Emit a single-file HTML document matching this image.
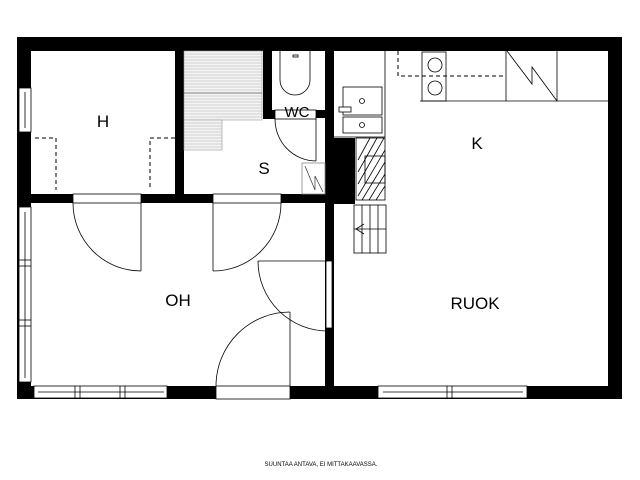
<!DOCTYPE html>
<html><head><meta charset="utf-8"><style>html,body{margin:0;padding:0;background:#fff}svg{display:block}</style></head>
<body>
<svg width="640" height="480" viewBox="0 0 640 480" xmlns="http://www.w3.org/2000/svg" font-family="Liberation Sans, sans-serif">
<rect width="640" height="480" fill="#fff"/>
<!-- outer walls -->
<rect x="17" y="37" width="605" height="14" fill="#000"/>
<rect x="608" y="37" width="14" height="362" fill="#000"/>
<rect x="17" y="386" width="605" height="13" fill="#000"/>
<rect x="17" y="37" width="14" height="362" fill="#000"/>
<!-- interior walls -->
<rect x="175" y="51" width="9" height="152" fill="#000"/>
<rect x="31" y="194" width="303" height="9" fill="#000"/>
<rect x="263" y="51" width="9" height="68" fill="#000"/>
<rect x="263" y="110" width="12" height="9" fill="#000"/>
<rect x="315" y="110" width="10" height="8" fill="#000"/>
<rect x="325" y="51" width="9" height="335" fill="#000"/>
<rect x="334" y="138" width="21" height="66" fill="#000"/>
<g fill="#fff" stroke="#000" stroke-width="0.8">
<!-- door frames -->
<rect x="73" y="194" width="68" height="9"/>
<rect x="213" y="194" width="68" height="9"/>
<rect x="275" y="110" width="41" height="9"/>
<rect x="216" y="386" width="74" height="13"/>
<rect x="326" y="261" width="6" height="67"/>
<!-- windows -->
<rect x="19" y="88" width="12" height="44"/>
<rect x="19" y="207" width="12" height="175"/>
<rect x="34" y="386" width="133" height="12"/>
<rect x="378" y="386" width="149" height="12"/>
</g>
<g stroke="#000" stroke-width="0.8" fill="none">
<line x1="25" y1="92" x2="25" y2="128"/><line x1="25" y1="212" x2="25" y2="378"/>
<line x1="19" y1="260" x2="31" y2="260"/><line x1="19" y1="266" x2="31" y2="266"/>
<line x1="19" y1="320" x2="31" y2="320"/><line x1="19" y1="326" x2="31" y2="326"/>
<line x1="38" y1="392" x2="164" y2="392"/>
<line x1="75" y1="386" x2="75" y2="398"/><line x1="80" y1="386" x2="80" y2="398"/>
<line x1="120" y1="386" x2="120" y2="398"/><line x1="125" y1="386" x2="125" y2="398"/>
<line x1="383" y1="392" x2="523" y2="392"/>
<line x1="447" y1="386" x2="447" y2="398"/><line x1="452" y1="386" x2="452" y2="398"/>
<!-- doors -->
<line x1="141" y1="203" x2="141" y2="271"/><path d="M73 203 A68 68 0 0 0 141 271"/>
<line x1="213" y1="203" x2="213" y2="271"/><path d="M281 203 A68 68 0 0 1 213 271"/>
<line x1="258" y1="261" x2="328" y2="261"/><path d="M258 261 A70 70 0 0 0 328 331"/>
<line x1="290" y1="386" x2="290" y2="312"/><path d="M216 386 A74 74 0 0 1 290 312"/>
<line x1="316" y1="119" x2="316" y2="161"/><path d="M275 119 A41 42 0 0 0 316 161"/>
<!-- toilet -->
<path d="M280 51 L280 80 A15 15 0 0 0 310 80 L310 51"/>
<rect x="293" y="55" width="5" height="2"/>
</g>
<!-- dashed H -->
<g stroke="#000" stroke-width="1" stroke-dasharray="4 3" fill="none">
<path d="M35 138 H56 V190"/><path d="M175 138 H150 V190"/>
<path d="M398 51 V76 H506"/>
</g>
<!-- sauna benches -->
<g stroke="#999" stroke-width="0.6">
<rect x="184" y="51" width="78" height="69" fill="#f4f4f4"/>
<rect x="184" y="120" width="38" height="30" fill="#f4f4f4"/>
</g>
<g stroke="#aaa" stroke-width="0.5">
<path d="M184 54H262M184 57H262M184 60H262M184 63H262M184 66H262M184 69H262M184 72H262M184 75H262M184 78H262M184 81H262M184 84H262M184 87H262M184 90H262M184 96H262M184 99H262M184 102H262M184 105H262M184 108H262M184 111H262M184 114H262M184 117H262M184 123H222M184 126H222M184 129H222M184 132H222M184 135H222M184 138H222M184 141H222M184 144H222M184 147H222"/>
</g>
<line x1="184" y1="93" x2="262" y2="93" stroke="#555" stroke-width="0.8"/>
<!-- gray box with zigzag -->
<rect x="302" y="163" width="23" height="31" fill="none" stroke="#888" stroke-width="0.8"/>
<path d="M305 166 L315 190 L315 176 L323 192" fill="none" stroke="#333" stroke-width="0.7"/>
<!-- kitchen -->
<g stroke="#000" stroke-width="0.8" fill="none">
<path d="M334 137 H385 V51"/>
<rect x="343" y="87" width="39" height="28"/><rect x="339" y="107" width="12" height="5" fill="#fff"/>
<rect x="343" y="117" width="39" height="16"/>
<circle cx="362" cy="101" r="2.5"/><circle cx="362" cy="125" r="2.5"/>
<rect x="356" y="138" width="29" height="62"/><rect x="365" y="156" width="20" height="27"/>
<path d="M358 160 L370 138 M358 172 L377 138 M358 184 L384 138 M358 196 L385 150 M362 200 L385 162 M369 200 L385 174 M376 200 L385 186"/>
<rect x="354" y="205" width="32" height="48"/>
<line x1="362" y1="205" x2="362" y2="253"/><line x1="370" y1="205" x2="370" y2="253"/><line x1="378" y1="205" x2="378" y2="253"/>
<line x1="354" y1="229" x2="386" y2="229"/><path d="M364 224 L356 229 L364 234"/>
<line x1="420" y1="101" x2="608" y2="101"/>
<rect x="422" y="52" width="24" height="49"/>
<circle cx="435" cy="65" r="7"/><circle cx="435" cy="88" r="7"/>
<line x1="506" y1="51" x2="506" y2="101"/><line x1="557" y1="51" x2="557" y2="101"/>
<path d="M507 51 L532 84 L532 67 L557 101"/>
</g>
<!-- labels -->
<g font-size="17" fill="#000" text-anchor="middle">
<text x="103" y="127">H</text>
<text x="264" y="174">S</text>
<text x="297" y="117" font-size="15">WC</text>
<text x="477" y="149">K</text>
<text x="178" y="306">OH</text>
<text x="475" y="309">RUOK</text>
</g>
<text x="321" y="466" font-size="6" text-anchor="middle" fill="#000">SUUNTAA ANTAVA, EI MITTAKAAVASSA.</text>
</svg>
</body></html>
